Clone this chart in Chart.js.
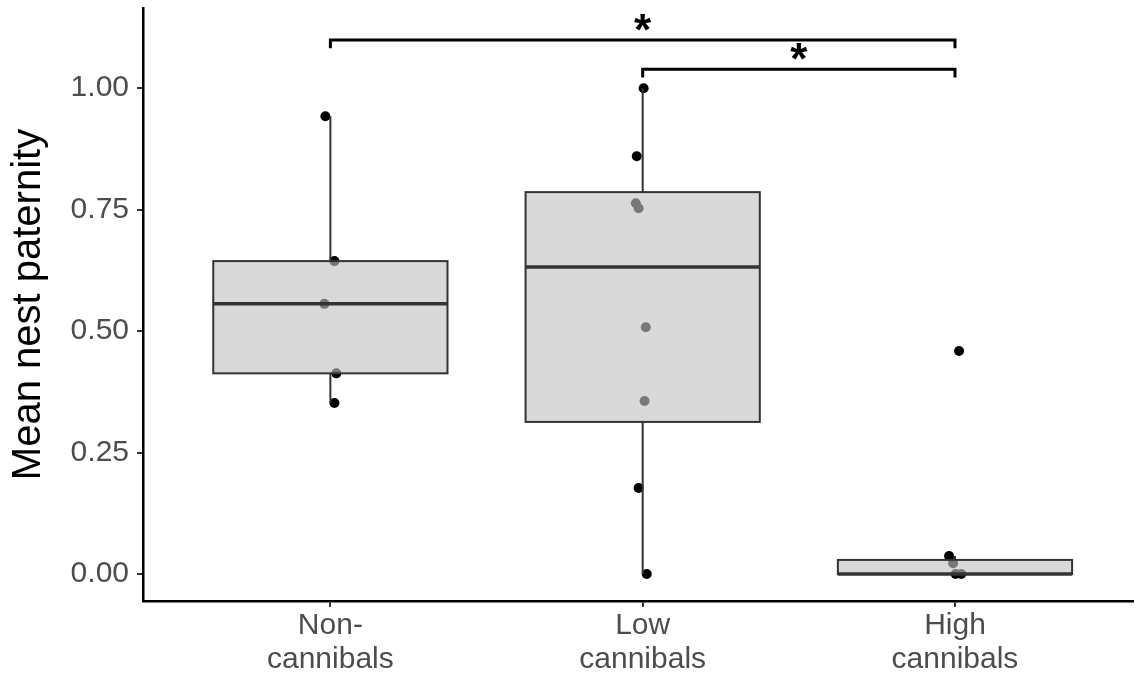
<!DOCTYPE html>
<html>
<head>
<meta charset="utf-8">
<script src="https://cdn.jsdelivr.net/npm/chart.js@4"></script>
<style>
  html, body { margin: 0; padding: 0; background: #fff; }
  #wrap { width: 1138px; height: 674px; }
</style>
</head>
<body>
<div id="wrap"><canvas id="chart" width="1138" height="674"></canvas></div>
<script>
// categories and tick labels
const groups = [["Non-", "cannibals"], ["Low", "cannibals"], ["High", "cannibals"]];
const yTicks = [0, 0.25, 0.5, 0.75, 1];

// box statistics, one entry per group
const whiskerLow = [0.352, 0, 0];
const q1 = [0.413, 0.313, 0];
const median = [0.556, 0.632, 0];
const q3 = [0.644, 0.786, 0.029];
const whiskerHigh = [0.942, 1.0, 0.037];

// raw observations and their horizontal jitter
const nonValues = [0.942, 0.644, 0.556, 0.413, 0.352];
const nonJitter = [-0.016, 0.013, -0.019, 0.019, 0.013];
const lowValues = [1.0, 0.860, 0.763, 0.753, 0.508, 0.356, 0.177, 0];
const lowJitter = [0.003, -0.019, -0.022, -0.013, 0.010, 0.006, -0.013, 0.013];
const highValues = [0.459, 0.037, 0.022, 0, 0];
const highJitter = [0.013, -0.019, -0.006, 0.002, 0.020];

// significance brackets (group from, group to, height, label)
const sigFrom = [1, 2];
const sigTo = [3, 3];
const sigY = [1.099, 1.039];
const sigLabel = ["*", "*"];

const BOX_WIDTH = 0.75;
const SIG_DROP = 0.017;
const FONT = "'Liberation Sans', Arial, sans-serif";

function toPoints(values, jitter, pos) {
  return values.map((v, i) => ({ x: pos + jitter[i], y: v }));
}

const allPoints = [
  ...toPoints(nonValues, nonJitter, 1),
  ...toPoints(lowValues, lowJitter, 2),
  ...toPoints(highValues, highJitter, 3),
];

// boxes are drawn on top of the points with a translucent fill,
// so points inside the box come out grey like in ggplot
const boxPlugin = {
  id: "boxes",
  afterDatasetsDraw(chart) {
    const { ctx, scales: { x, y } } = chart;
    ctx.save();
    for (let i = 0; i < groups.length; i++) {
      const cx = x.getPixelForValue(i + 1);
      const left = x.getPixelForValue(i + 1 - BOX_WIDTH / 2);
      const right = x.getPixelForValue(i + 1 + BOX_WIDTH / 2);
      const top = y.getPixelForValue(q3[i]);
      const bottom = y.getPixelForValue(q1[i]);

      ctx.strokeStyle = "#333333";
      ctx.lineWidth = 2;
      ctx.beginPath();
      ctx.moveTo(cx, top);
      ctx.lineTo(cx, y.getPixelForValue(whiskerHigh[i]));
      ctx.moveTo(cx, bottom);
      ctx.lineTo(cx, y.getPixelForValue(whiskerLow[i]));
      ctx.stroke();

      ctx.fillStyle = "rgba(193,193,193,0.62)";
      ctx.fillRect(left, top, right - left, bottom - top);
      ctx.strokeRect(left, top, right - left, bottom - top);

      ctx.lineWidth = 3.5;
      ctx.beginPath();
      const my = y.getPixelForValue(median[i]);
      ctx.moveTo(left, my);
      ctx.lineTo(right, my);
      ctx.stroke();
    }

    ctx.strokeStyle = "#000";
    ctx.lineWidth = 3;
    ctx.fillStyle = "#000";
    ctx.font = "bold 44px " + FONT;
    ctx.textAlign = "center";
    ctx.textBaseline = "alphabetic";
    for (let i = 0; i < sigFrom.length; i++) {
      const x1 = x.getPixelForValue(sigFrom[i]);
      const x2 = x.getPixelForValue(sigTo[i]);
      const yy = y.getPixelForValue(sigY[i]);
      const yd = y.getPixelForValue(sigY[i] - SIG_DROP);
      ctx.beginPath();
      ctx.moveTo(x1, yd);
      ctx.lineTo(x1, yy);
      ctx.lineTo(x2, yy);
      ctx.lineTo(x2, yd);
      ctx.stroke();
      ctx.fillText(sigLabel[i], (x1 + x2) / 2, yy + 5);
    }
    ctx.restore();
  }
};

const ctx = document.getElementById("chart");
new Chart(ctx, {
  type: "scatter",
  data: {
    datasets: [{
      data: allPoints,
      backgroundColor: "#000",
      borderWidth: 0,
      pointRadius: 5,
    }]
  },
  options: {
    responsive: false,
    animation: false,
    layout: { padding: { top: 8, right: 0, left: 0, bottom: 0 } },
    plugins: { legend: { display: false }, tooltip: { enabled: false } },
    scales: {
      x: {
        type: "linear",
        min: 0.4,
        max: 3.57,
        afterBuildTicks: (axis) => { axis.ticks = [1, 2, 3].map(v => ({ value: v })); },
        afterFit: (axis) => {
          axis.height = 73;
          axis.paddingLeft = 0;
          axis.paddingRight = 0;
        },
        ticks: {
          callback: (v) => groups[v - 1],
          color: "#4d4d4d",
          font: { family: FONT, size: 30, lineHeight: 1.13 },
          padding: 2,
          maxRotation: 0,
          autoSkip: false,
        },
        grid: { drawOnChartArea: false, tickLength: 6, color: "#333", lineWidth: 2 },
        border: { color: "#000", width: 2.5 },
      },
      y: {
        type: "linear",
        min: -0.0556,
        max: 1.165,
        afterBuildTicks: (axis) => { axis.ticks = yTicks.map(v => ({ value: v })); },
        afterFit: (axis) => {
          axis.width = 143;
          axis.paddingTop = 0;
          axis.paddingBottom = 0;
        },
        ticks: {
          callback: (v) => v.toFixed(2),
          color: "#4d4d4d",
          font: { family: FONT, size: 30 },
          padding: 8,
        },
        grid: { drawOnChartArea: false, tickLength: 6, color: "#333", lineWidth: 2 },
        border: { color: "#000", width: 2.5 },
        title: {
          display: true,
          text: "Mean nest paternity",
          color: "#000",
          font: { family: FONT, size: 40 },
          padding: { top: 5, bottom: 0 },
        },
      },
    },
  },
  plugins: [boxPlugin],
});
</script>
</body>
</html>
